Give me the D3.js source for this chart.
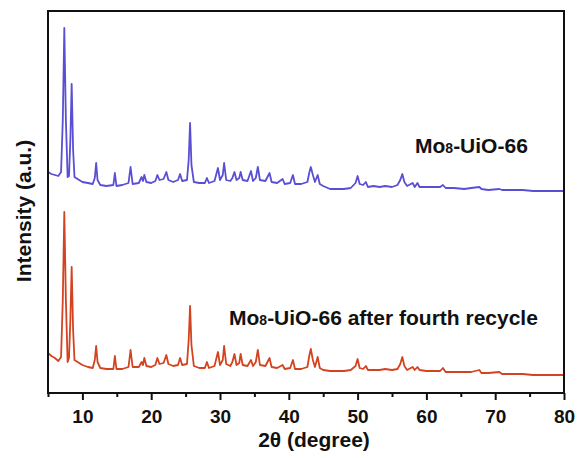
<!DOCTYPE html>
<html lang="en">
<head>
  <meta charset="UTF-8">
  <title>XRD Mo8-UiO-66</title>
  <script src="https://d3js.org/d3.v7.min.js"></script>
  <style>
    body { margin: 0; background: #fff; }
    text { font-family: "Liberation Sans", Arial, sans-serif; font-weight: bold; fill: #111; }
  </style>
</head>
<body>
  <svg id="chart" width="577" height="458"></svg>

  <script>
    // 2theta positions shared by both patterns (degree)
    const twoTheta = [
      5.0, 5.5, 6.0, 6.5, 6.9, 7.15, 7.37, 7.6, 7.85, 8.05, 8.25, 8.44, 8.65, 8.85, 9.3, 10.0, 10.8, 11.5,
      11.8, 12.0, 12.2, 12.6, 13.5, 14.5, 14.72, 14.95, 15.8, 16.7, 17.0, 17.3, 18.2, 18.6, 18.8, 19.0,
      19.3, 20.0, 20.6, 20.9, 21.2, 21.8, 22.2, 22.5, 23.2, 23.9, 24.2, 24.5, 25.2, 25.45, 25.65, 25.85,
      26.2, 27.0, 27.8, 28.1, 28.4, 29.2, 29.7, 30.0, 30.4, 30.6, 30.9, 31.5, 31.8, 32.1, 32.4, 32.8,
      33.0, 33.3, 34.0, 34.5, 34.8, 35.2, 35.5, 35.8, 36.6, 37.2, 37.5, 38.3, 39.1, 39.4, 40.2, 40.6,
      40.9, 41.8, 42.7, 43.0, 43.2, 43.5, 43.8, 44.2, 44.5, 45.0, 46.0, 47.0, 48.0, 49.0, 49.7, 50.0,
      50.3, 50.8, 51.2, 51.5, 52.3, 53.2, 54.0, 55.0, 55.8, 56.2, 56.5, 56.8, 57.2, 58.0, 58.3, 58.7,
      59.0, 60.0, 61.0, 62.0, 62.4, 62.8, 64.0, 65.5, 66.5, 67.7, 68.0, 69.0, 70.6, 71.0, 72.5, 74.0,
      75.5, 77.0, 78.5, 80.0
    ];

    // Mo8-UiO-66 (a.u., offset stacked)
    const pristine = [
      221, 219, 218, 217, 221, 273, 365, 273, 216, 217, 253, 309, 243, 216, 214, 211, 210, 209,
      215, 230, 213, 208, 207, 208, 220, 207, 208, 210, 226, 209, 210, 216, 212, 218,
      211, 210, 212, 218, 213, 214, 221, 213, 211, 213, 219, 212, 213, 233, 270, 228,
      211, 210, 210, 215, 210, 212, 225, 213, 218, 230, 213, 212, 215, 221, 213, 215,
      221, 213, 212, 222, 212, 215, 226, 213, 212, 220, 211, 210, 214, 209, 210, 218,
      209, 209, 211, 221, 226, 218, 211, 218, 209, 207, 204, 204, 204, 205, 210, 217,
      209, 208, 211, 206, 207, 206, 207, 206, 208, 213, 219, 211, 207, 210, 206, 210,
      206, 206, 206, 206, 208, 205, 205, 204, 205, 206, 204, 203, 204, 203, 203, 203,
      202, 202, 202, 202
    ];

    // Mo8-UiO-66 after fourth recycle (a.u.)
    const recycled = [
      40, 37, 35, 32, 36, 93, 181, 93, 31, 35, 73, 126, 63, 33, 31, 28, 26, 25,
      33, 47, 31, 25, 24, 24, 37, 24, 24, 26, 43, 26, 26, 31, 28, 35,
      27, 26, 28, 35, 29, 30, 38, 29, 27, 28, 35, 28, 29, 53, 87, 48,
      27, 25, 25, 31, 25, 27, 41, 28, 33, 47, 29, 27, 31, 39, 28, 30,
      39, 28, 27, 33, 27, 31, 43, 28, 27, 35, 26, 25, 28, 24, 25, 33,
      24, 24, 26, 38, 44, 33, 26, 36, 25, 23, 22, 22, 22, 23, 27, 34,
      25, 24, 27, 23, 23, 23, 24, 23, 24, 29, 36, 27, 23, 26, 23, 26,
      23, 22, 22, 22, 25, 21, 21, 21, 21, 23, 20, 20, 21, 19, 19, 19,
      18, 18, 18, 18
    ];

    const xTicks = [10, 20, 30, 40, 50, 60, 70, 80];
    const xMinor = [5, 15, 25, 35, 45, 55, 65, 75];

    const plotLeft = 48, plotRight = 564, plotTop = 11, plotBottom = 393;
    const svg = d3.select("#chart");

    const x = d3.scaleLinear().domain([5, 80]).range([plotLeft, plotRight]);
    const y = d3.scaleLinear().domain([0, 382]).range([plotBottom, plotTop]);

    const line = d3.line()
      .x(d => x(d[0]))
      .y(d => y(d[1]));

    const series = [
      { vals: pristine, color: "#5a4fd4" },
      { vals: recycled, color: "#d4431f" }
    ];

    svg.selectAll("path.trace").data(series)
      .join("path")
      .attr("class", "trace")
      .attr("fill", "none")
      .attr("stroke", d => d.color)
      .attr("stroke-width", 1.8)
      .attr("stroke-linejoin", "round")
      .attr("d", d => line(twoTheta.map((t, i) => [t, d.vals[i]])));

    // frame
    svg.append("rect")
      .attr("x", plotLeft).attr("y", plotTop)
      .attr("width", plotRight - plotLeft).attr("height", plotBottom - plotTop)
      .attr("fill", "none").attr("stroke", "#111").attr("stroke-width", 2);

    // bottom ticks, pointing outward
    const major = svg.append("g").attr("transform", `translate(0,${plotBottom})`)
      .call(d3.axisBottom(x).tickValues(xTicks).tickSize(7).tickPadding(10));
    major.select(".domain").remove();
    major.selectAll("line").attr("stroke", "#111").attr("stroke-width", 2);
    major.selectAll("text").attr("font-size", 19).attr("font-family", null).attr("fill", "#111");

    const minor = svg.append("g").attr("transform", `translate(0,${plotBottom})`)
      .call(d3.axisBottom(x).tickValues(xMinor).tickSize(4).tickFormat(""));
    minor.select(".domain").remove();
    minor.selectAll("line").attr("stroke", "#111").attr("stroke-width", 2);

    // axis titles
    svg.append("text")
      .attr("x", (plotLeft + plotRight) / 2 + 8).attr("y", 447)
      .attr("text-anchor", "middle").attr("font-size", 21)
      .text("2\u03b8 (degree)");

    svg.append("text")
      .attr("transform", "translate(31,211) rotate(-90)")
      .attr("text-anchor", "middle").attr("font-size", 21)
      .text("Intensity (a.u.)");

    // pattern labels
    function label(xp, yp, rest) {
      const t = svg.append("text").attr("x", xp).attr("y", yp).attr("font-size", 21);
      t.append("tspan").text("Mo");
      t.append("tspan").attr("font-size", 14).text("8");
      t.append("tspan").text(rest);
    }
    label(415, 153, "-UiO-66");
    label(229, 325, "-UiO-66 after fourth recycle");
  </script>
</body>
</html>
